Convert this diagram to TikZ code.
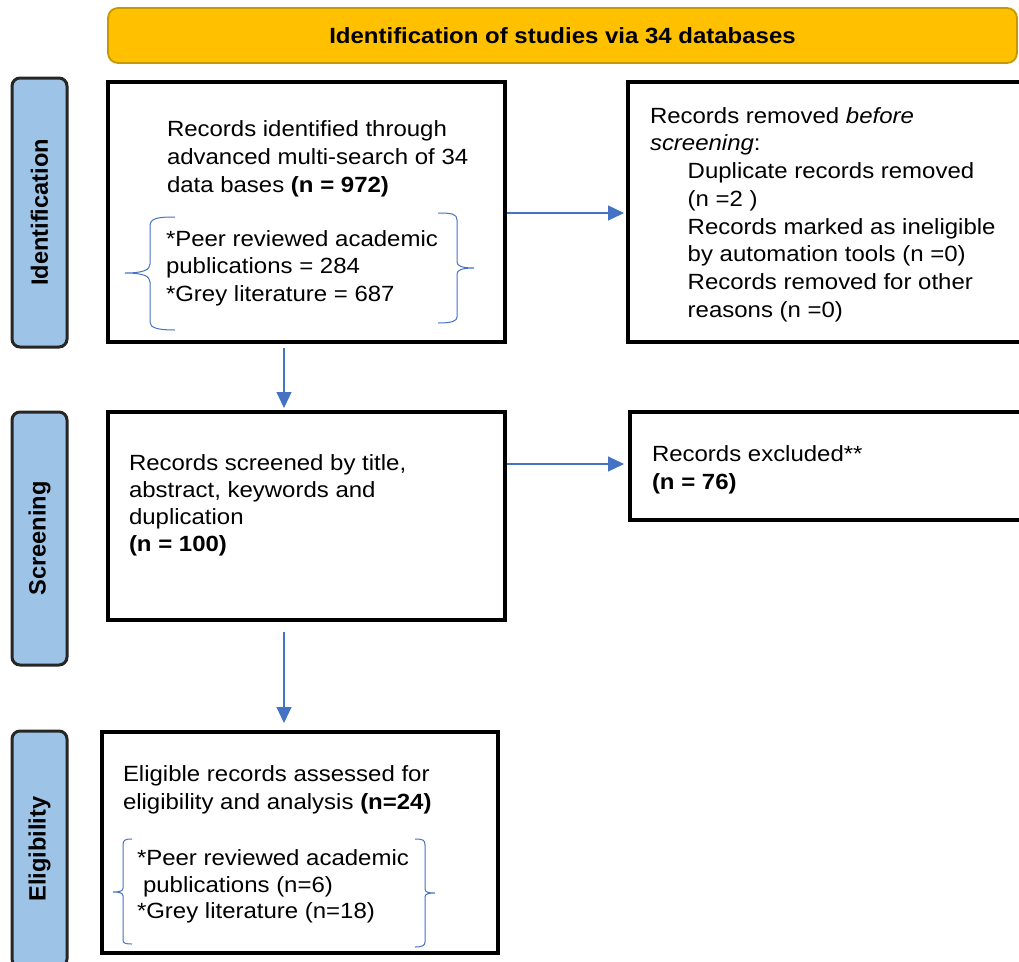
\documentclass[tikz,border=0pt]{standalone}
\usepackage{fontspec}
\setmainfont{Liberation Sans}[FakeStretch=1.09]
\newfontfamily\labelfont{Liberation Sans}
\usetikzlibrary{arrows.meta,calc}
\definecolor{bannerfill}{HTML}{FFC000}
\definecolor{bannerline}{HTML}{C49A00}
\definecolor{sidefill}{HTML}{9DC3E6}
\definecolor{sideline}{HTML}{262626}
\definecolor{flow}{HTML}{4472C4}
\begin{document}
\begin{tikzpicture}[x=1pt,y=-1pt,
  box/.style={draw=black, line width=3.3pt, inner sep=0pt, outer sep=0pt, anchor=north west, fill=white},
  bannerbox/.style={draw=bannerline, line width=1.8pt, fill=bannerfill, rounded corners=10pt, inner sep=0pt, outer sep=0pt, anchor=north west, font=\bfseries\fontsize{22}{26}\selectfont},
  side/.style={draw=sideline, line width=3pt, fill=sidefill, rounded corners=8pt, inner sep=0pt, outer sep=0pt, rotate=90, font=\labelfont\bfseries\fontsize{23.6}{28}\selectfont},
  txt/.style={anchor=north west, align=left, inner sep=0pt, outer sep=0pt},
  arr/.style={draw=flow, line width=1.2pt, -{Triangle[length=16pt,width=15pt]}},
  bracepath/.style={draw=flow, line width=1pt}
]
\useasboundingbox (0,0) rectangle (1019,961);
\clip (0,0) rectangle (1019,961);
\fill[white] (0,0) rectangle (1019,961);

% banner
\node[bannerbox, minimum width=909pt, minimum height=55pt] (ban) at (108,8) {Identification of studies via 34 databases};

% side labels
\node[side, minimum width=269pt, minimum height=55pt] (lid) at (39.5,212.5) {Identification};
\node[side, minimum width=253pt, minimum height=55pt] (lscr) at (39.5,538.5) {Screening};
\node[side, minimum width=236pt, minimum height=55pt] (lel) at (39.5,849) {Eligibility};

% boxes
\node[box, minimum width=397pt, minimum height=260pt] (b1) at (108,82) {};
\node[box, minimum width=410pt, minimum height=260pt] (b2) at (628,82) {};
\node[box, minimum width=397pt, minimum height=208pt] (b3) at (108,412) {};
\node[box, minimum width=410pt, minimum height=108pt] (b4) at (630,412) {};
\node[box, minimum width=396pt, minimum height=221pt] (b5) at (102,732) {};

% texts
\node[txt, font=\fontsize{22}{28}\selectfont] (t1) at (167,117.1)
  {\strut Records identified through\\advanced multi-search of 34\\data bases \textbf{(n = 972)}};
\node[txt, font=\fontsize{22}{27.2}\selectfont] (t1b) at (166,227.7)
  {\strut *Peer reviewed academic\\publications = 284\\*Grey literature = 687};
\node[txt, font=\fontsize{22}{27.7}\selectfont] (t2) at (650,103.9)
  {\strut Records removed \textit{before}\\\textit{screening}:\\
   \hspace*{37.7pt}Duplicate records removed\\
   \hspace*{37.7pt}(n =2 )\\
   \hspace*{37.7pt}Records marked as ineligible\\
   \hspace*{37.7pt}by automation tools (n =0)\\
   \hspace*{37.7pt}Records removed for other\\
   \hspace*{37.7pt}reasons (n =0)};
\node[txt, font=\fontsize{22}{27.2}\selectfont] (t3) at (129,451)
  {\strut Records screened by title,\\abstract, keywords and\\duplication\\\textbf{(n = 100)}};
\node[txt, font=\fontsize{22}{28}\selectfont] (t4) at (652,442.1)
  {\strut Records excluded**\\\textbf{(n = 76)}};
\node[txt, font=\fontsize{22}{28}\selectfont] (t5) at (123,762.1)
  {\strut Eligible records assessed for\\eligibility and analysis \textbf{(n=24)}};
\node[txt, font=\fontsize{22}{26.3}\selectfont] (t5b) at (137,847.3)
  {\strut *Peer reviewed academic\\\hspace*{6pt}publications (n=6)\\*Grey literature (n=18)};

% braces
\draw[bracepath] (175,217) .. controls (158,217) and (150,218) .. (150,226) -- (150,264)
  .. controls (150,270) and (143,273) .. (125,273)
  .. controls (143,273) and (150,276) .. (150,282) -- (150,322)
  .. controls (150,328) and (158,330) .. (175,330);
\draw[bracepath] (438,213) .. controls (452,213) and (457,214) .. (457,220) -- (457,262)
  .. controls (457,266) and (462,268) .. (474,268)
  .. controls (462,268) and (457,270) .. (457,274) -- (457,317)
  .. controls (457,321) and (452,323) .. (438,323);
\draw[bracepath] (132,839) .. controls (125,839) and (123,840) .. (123,845) -- (123,888)
  .. controls (123,891) and (120,892) .. (113,892)
  .. controls (120,892) and (123,893) .. (123,896) -- (123,940)
  .. controls (123,943) and (125,944) .. (132,944);
\draw[bracepath] (415,839) .. controls (423,839) and (425,840) .. (425,845) -- (425,889)
  .. controls (425,892) and (428,893) .. (435,893)
  .. controls (428,893) and (425,894) .. (425,897) -- (425,942)
  .. controls (425,945) and (423,947) .. (415,947);

% arrows
\coordinate (a1) at ($(b1.north east)+(2,131)$);
\draw[arr] (a1) -- ($(b2.west |- a1)+(-4,0)$);
\draw[arr] ($(b1.south west)+(176,6)$) -- ($(b3.north west)+(176,-4)$);
\coordinate (a3) at ($(b3.north east)+(2,52)$);
\draw[arr] (a3) -- ($(b4.west |- a3)+(-6,0)$);
\draw[arr] ($(b3.south west)+(176,12)$) -- ($(b5.north west)+(182,-9)$);
\end{tikzpicture}
\end{document}
